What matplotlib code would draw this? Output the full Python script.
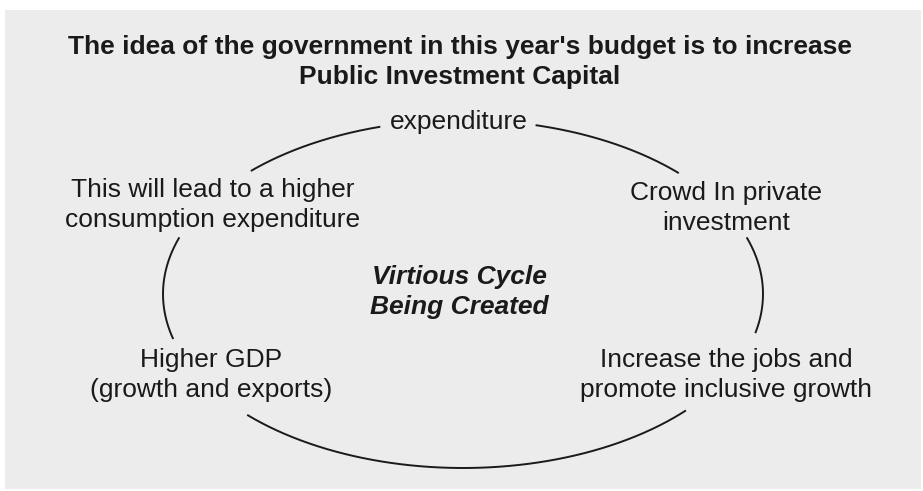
import numpy as np
import matplotlib
matplotlib.use("Agg")
from matplotlib import pyplot as plt
from matplotlib.patches import Rectangle

# text content
title_lines = ["The idea of the government in this year's budget is to increase",
               "Public Investment Capital"]
node_labels = ["expenditure",
               "This will lead to a higher\nconsumption expenditure",
               "Crowd In private\ninvestment",
               "Higher GDP\n(growth and exports)",
               "Increase the jobs and\npromote inclusive growth"]
center_label = "Virtious Cycle\nBeing Created"

# layout (pixel coordinates, y down)
W, H = 923, 491
node_pos = [(459, 129), (213, 197), (726, 200), (211, 367), (726, 367)]
title_base = [54, 84]
center_base = 284
line_gap = 30

# ellipse and the visible arc pieces (parametric angles, degrees)
cx, cy, a, b = 463, 294, 300, 174
arc_pieces = [(44, 76), (106, 135), (161, 195), (224, 318), (-13, 19)]

ink = "#1a1a1a"
plt.rcParams['font.family'] = ['Liberation Sans', 'DejaVu Sans']

fig = plt.figure(figsize=(W / 100, H / 100), dpi=100)
fig.patch.set_facecolor("white")
ax = fig.add_axes([0, 0, 1, 1])
ax.set_xlim(0, W)
ax.set_ylim(H, 0)
ax.axis("off")

ax.add_patch(Rectangle((5, 10), W - 7, H - 12, facecolor="#ececec", edgecolor="none"))

for t1, t2 in arc_pieces:
    t = np.deg2rad(np.linspace(t1, t2, 200))
    ax.plot(cx + a * np.cos(t), cy - b * np.sin(t), color=ink, lw=1.4,
            solid_capstyle="butt")

for i, line in enumerate(title_lines):
    ax.text(460, title_base[i], line, ha="center", va="baseline",
            fontsize=19, fontweight="bold", color=ink)

for label, (x, y) in zip(node_labels, node_pos):
    for j, line in enumerate(label.split("\n")):
        ax.text(x, y + j * line_gap, line, ha="center", va="baseline",
                fontsize=19, color=ink)

for j, line in enumerate(center_label.split("\n")):
    ax.text(459, center_base + j * line_gap, line, ha="center", va="baseline",
            fontsize=19, fontweight="bold", fontstyle="italic", color=ink)

fig.savefig("out.png", dpi=100, facecolor=fig.get_facecolor())
